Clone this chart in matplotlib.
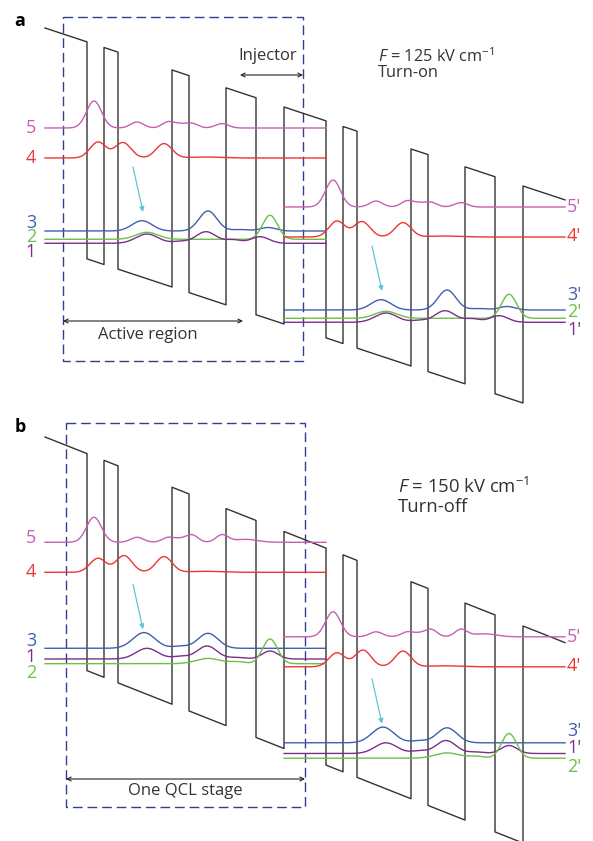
import numpy as np
import matplotlib.pyplot as plt

plt.rcParams['font.family'] = ['Open Sans', 'DejaVu Sans']
plt.rcParams['mathtext.fontset'] = 'custom'
plt.rcParams['mathtext.rm'] = 'Open Sans'
plt.rcParams['mathtext.it'] = 'Open Sans:italic'

## Structure (drawing units = pixels of the 593x841 sheet)
# layer edges of one period, barrier/well alternating, first one a barrier
layer_edges = [45, 87, 104, 118, 172, 189, 226, 256, 284]
period_dx = 239
n_periods = 2
barrier_height = 217

# panel a: turn-on, panel b: turn-off
fields = [125, 150]
band_top0 = [28, 437]         # barrier top at the left end
period_drop = [79, 94.5]      # band drop over one period

level_colors = {'5': '#c65fb3', '4': '#ee3535', '3': '#3f5fae',
                '2': '#6cbf47', '1': '#7d2d8c'}

# level baselines of the first period
levels_a = {'5': 128, '4': 158, '3': 231, '2': 239.3, '1': 243.3}
levels_b = {'5': 542.3, '4': 572.3, '3': 648.3, '1': 659, '2': 663.7}

# |psi|^2 bumps: (centre, height, width)
bumps_a = {
    '5': [(94, 27, 7.5), (137, 6, 6.5), (168, 6, 6), (180, 3.5, 6), (192, 4.5, 6), (222, 4.4, 6.5)],
    '4': [(98, 16, 8), (123, 15.4, 8), (164, 14.4, 8), (205, 1, 15)],
    '3': [(142, 10.3, 10), (208, 20, 9), (240, 1.5, 8), (268, 3.5, 8)],
    '2': [(147, 7, 11), (270, 24, 7.5)],
    '1': [(147, 9.3, 11), (180, 1.8, 8), (206, 11.6, 10), (233, 3.5, 8), (260, 6.6, 9)],
}
bumps_b = {
    '5': [(94, 25, 7.5), (137, 5, 6.5), (168, 4.7, 6), (180, 3, 6), (192, 7.3, 6), (222, 7.3, 6), (245, 3, 12)],
    '4': [(98, 14, 8), (124, 16.7, 8), (164, 15.7, 8), (205, 1, 15)],
    '3': [(144, 15.7, 11), (180, 2, 8), (208, 15, 10)],
    '1': [(147, 10.7, 11), (180, 2.5, 8), (207, 13, 10), (237, 1.5, 8), (270, 8, 8)],
    '2': [(208, 5.3, 12), (237, 2, 8), (270, 24.7, 7.5)],
}

# label positions (y) left for first period, right for second period
labels_left_a = {'5': 128, '4': 158, '3': 223, '2': 237, '1': 252}
labels_right_a = {'5': 207, '4': 236, '3': 295, '2': 312, '1': 330}
labels_left_b = {'5': 538, '4': 572, '3': 641, '1': 657, '2': 673}
labels_right_b = {'5': 637, '4': 666, '3': 731, '1': 748, '2': 767}

boxes = [(63, 17, 303, 361), (66, 423, 305, 807)]
dash_color = '#2f3f95'
band_color = '#333333'
text_color = '#333333'
cyan = '#5ec6da'


def band_profile(top0, drop):
    slope = drop / period_dx
    top = lambda x: top0 + slope * (x - layer_edges[0])
    xs, ys = [], []
    layers = []
    for k in range(n_periods):
        for i in range(len(layer_edges) - 1):
            layers.append((layer_edges[i] + k * period_dx, layer_edges[i + 1] + k * period_dx, i % 2 == 0))
    layers.append((layer_edges[0] + n_periods * period_dx, layer_edges[1] + n_periods * period_dx, True))
    for x0, x1, barrier in layers:
        off = 0 if barrier else barrier_height
        xs += [x0, x1]
        ys += [top(x0) + off, top(x1) + off]
    return np.array(xs), np.array(ys)


def wave(x, base, bumps):
    y = np.full_like(x, base, dtype=float)
    for c, a, w in bumps:
        y -= a * np.exp(-(x - c) ** 2 / (2 * w ** 2))
    return y


def span_arrow(x0, x1, y):
    ax.annotate('', xy=(x0, y), xytext=(x1, y),
                arrowprops=dict(arrowstyle='<->', color='#222222', lw=0.8,
                                mutation_scale=7, shrinkA=0, shrinkB=0))


fig = plt.figure(figsize=(5.93, 8.41), dpi=100)
ax = fig.add_axes([0, 0, 1, 1])
ax.set_xlim(0, 593)
ax.set_ylim(841, 0)
ax.axis('off')

panels = [
    ('a', levels_a, bumps_a, labels_left_a, labels_right_a),
    ('b', levels_b, bumps_b, labels_left_b, labels_right_b),
]

for p, (tag, levels, bumps, lab_l, lab_r) in enumerate(panels):
    bx, by = band_profile(band_top0[p], period_drop[p])
    ax.plot(bx, by, color=band_color, lw=1.0, zorder=2)

    xw = np.linspace(layer_edges[0], layer_edges[-1] + 42, 800)
    for k in range(n_periods):
        for name, base in levels.items():
            ax.plot(xw + k * period_dx, wave(xw, base + k * period_drop[p], bumps[name]),
                    color=level_colors[name], lw=1.0, zorder=3)
        # radiative transition arrow
        ax.annotate('', xy=(143 + k * period_dx, levels['3'] - 19 + k * period_drop[p]),
                    xytext=(133 + k * period_dx, levels['3'] - 64 + k * period_drop[p]),
                    arrowprops=dict(arrowstyle='-|>', color=cyan, lw=0.9,
                                    mutation_scale=7, shrinkA=0, shrinkB=0), zorder=4)

    for name, y in lab_l.items():
        ax.text(31, y, name, color=level_colors[name], fontsize=13, ha='center', va='center')
    for name, y in lab_r.items():
        ax.text(567, y, name + "'", color=level_colors[name], fontsize=13, ha='left', va='center')

    x0, y0, x1, y1 = boxes[p]
    ax.plot([x0, x1, x1, x0, x0], [y0, y0, y1, y1, y0], color=dash_color, lw=1.0,
            linestyle=(0, (7, 3.5)), zorder=1)

    ax.text(20, y0 + 4, tag, fontsize=13, fontweight='bold', ha='center', va='center')

# panel a annotations
span_arrow(240, 303, 75)
ax.text(268, 56, 'Injector', fontsize=12, ha='center', va='center', color=text_color)
span_arrow(63, 243, 321)
ax.text(148, 335, 'Active region', fontsize=12, ha='center', va='center', color=text_color)
ax.text(378, 57, r'$F$ = %d kV cm$^{-1}$' % fields[0], fontsize=11.8, ha='left', va='center', color=text_color)
ax.text(378, 73, 'Turn-on', fontsize=11.8, ha='left', va='center', color=text_color)

# panel b annotations
span_arrow(66, 305, 779)
ax.text(185, 791, 'One QCL stage', fontsize=12, ha='center', va='center', color=text_color)
ax.text(398, 487, r'$F$ = %d kV cm$^{-1}$' % fields[1], fontsize=13.3, ha='left', va='center', color=text_color)
ax.text(398, 507, 'Turn-off', fontsize=13.3, ha='left', va='center', color=text_color)

fig.savefig('out.png', dpi=100)
